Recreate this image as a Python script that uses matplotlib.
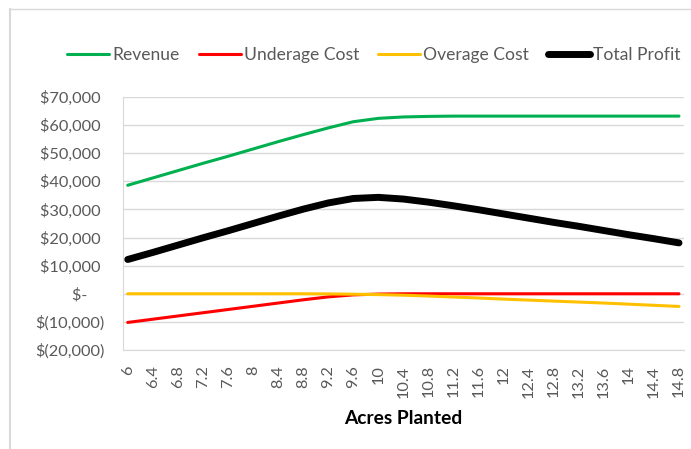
import matplotlib.pyplot as plt
from matplotlib.lines import Line2D

plt.rcParams['font.family'] = ['Lato', 'DejaVu Sans']

# acres planted, 6 .. 14.8 in steps of 0.4
acres = ['6', '6.4', '6.8', '7.2', '7.6', '8', '8.4', '8.8', '9.2', '9.6', '10',
         '10.4', '10.8', '11.2', '11.6', '12', '12.4', '12.8', '13.2', '13.6', '14',
         '14.4', '14.8']

revenue = [38600, 41200, 43800, 46400, 48900, 51500, 54100, 56600, 59000, 61200, 62400,
           62900, 63100, 63200, 63200, 63200, 63200, 63200, 63200, 63200, 63200,
           63200, 63200]
underage = [-10200, -9050, -7900, -6750, -5600, -4450, -3300, -2150, -1100, -400, -100,
            0, 0, 0, 0, 0, 0, 0, 0, 0, 0, 0, 0]
overage = [0, 0, 0, 0, 0, 0, 0, 0, -50, -150, -300,
           -500, -800, -1150, -1500, -1900, -2250, -2600, -2950, -3300, -3700,
           -4100, -4500]
profit = [12200, 14700, 17300, 19900, 22400, 25000, 27600, 30100, 32300, 33900, 34300,
          33700, 32600, 31300, 29900, 28400, 26900, 25400, 24000, 22500, 21000,
          19600, 18100]

ytick_vals = [-20000, -10000, 0, 10000, 20000, 30000, 40000, 50000, 60000, 70000]
ytick_text = ['$(20,000)', '$(10,000)', '$-    ', '$10,000 ', '$20,000 ', '$30,000 ',
              '$40,000 ', '$50,000 ', '$60,000 ', '$70,000 ']

grey = '#595959'
W, H = 691, 449
fig = plt.figure(figsize=(W / 100, H / 100), dpi=100)
ax = fig.add_axes([122.7 / W, 1 - 350 / H, (684 - 122.7) / W, (350 - 97) / H])

x = list(range(len(acres)))
ax.plot(x, revenue, color='#00B050', lw=2.2, label='Revenue', solid_capstyle='round')
ax.plot(x, underage, color='#FF0000', lw=2.2, label='Underage Cost', solid_capstyle='round')
ax.plot(x, overage, color='#FFC000', lw=2.2, label='Overage Cost', solid_capstyle='round')
ax.plot(x, profit, color='black', lw=5, label='Total Profit', solid_capstyle='round')

ax.set_xlim(-0.2, len(acres) - 1 + 0.2)
ax.set_ylim(-20000, 70000)
ax.set_yticks(ytick_vals)
ax.set_yticklabels(ytick_text)
ax.set_xticks(x)
ax.set_xticklabels(acres, rotation=90)
ax.grid(axis='y', color='#d9d9d9', lw=1)
ax.set_axisbelow(True)
for s in ['top', 'right']:
    ax.spines[s].set_visible(False)
for s in ['left', 'bottom']:
    ax.spines[s].set_color('#d9d9d9')
ax.tick_params(axis='both', length=0, labelsize=11.8, colors=grey)
ax.tick_params(axis='y', pad=13)
ax.tick_params(axis='x', pad=11)
ax.set_xlabel('Acres Planted', fontsize=13.8, fontweight='bold', color='black', labelpad=9)

fig.legend(loc='center', bbox_to_anchor=(374 / W, 1 - 55 / H), ncol=4, frameon=False,
           fontsize=12.6, handlelength=2.4, handletextpad=0.17, columnspacing=1.1,
           labelcolor=grey)

# chart area border (partly cut off)
fig.add_artist(Line2D([10 / W, 1], [1 - 9 / H, 1 - 9 / H], color='#d9d9d9', lw=1))
fig.add_artist(Line2D([10 / W, 10 / W], [0, 1 - 9 / H], color='#d9d9d9', lw=1.5))

fig.savefig('out.png', dpi=100)
